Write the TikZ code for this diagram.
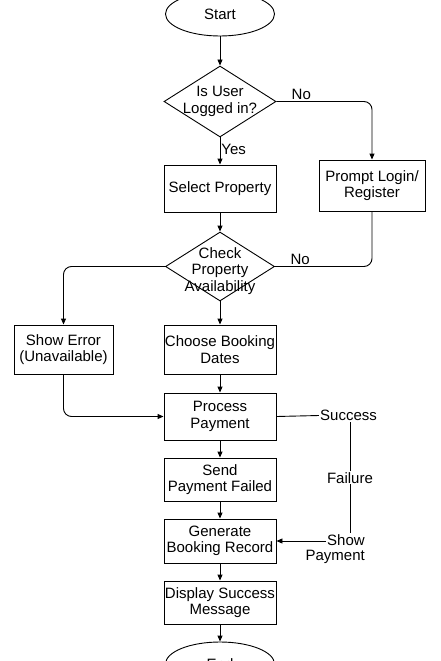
\documentclass[tikz,border=0pt]{standalone}
\usepackage{fontspec}
\setmainfont{Liberation Sans}
\usetikzlibrary{shapes.geometric,arrows.meta}
\newcommand\myfs{\fontsize{15}{16.5}\selectfont}
\tikzset{
  every node/.style={font=\myfs},
  box/.style={draw, line width=0.9pt, minimum width=112pt, inner sep=1pt, align=center},
  dec/.style={draw, diamond, line width=0.9pt, inner sep=0pt},
  term/.style={draw, ellipse, line width=0.9pt, minimum width=109pt, minimum height=44pt},
  txt/.style={align=center, inner sep=0pt},
  lbl/.style={inner sep=1pt},
  conn/.style={line width=0.9pt},
  arr/.style={conn, -{Triangle[length=6pt,width=5pt]}},
}
\begin{document}
\begin{tikzpicture}[x=1pt,y=-1pt]
\useasboundingbox (0,0) rectangle (440,661);
\clip (0,0) rectangle (440,661);
% nodes
\node[term] (start) at (220,14) {Start};
\node[dec, minimum width=112pt, minimum height=71pt] (d1) at (220,101.5) {};
\node[txt] (d1t) at (d1) {Is User\\Logged in?};
\node[box, minimum height=47pt] (sel) at (220,188.5) {Select Property};
\node[box, minimum width=106pt, minimum height=51pt] (pl) at (372,185.5) {Prompt Login/\\Register};
\node[dec, minimum width=109pt, minimum height=69pt] (d2) at (220,266.5) {};
\node[txt] (d2t) at (220,271) {Check\\Property\\Availability};
\node[box, minimum width=99pt, minimum height=49pt] (se) at (63.5,349.5) {Show Error\\(Unavailable)};
\node[box, minimum height=49pt] (cb) at (220,349.5) {Choose Booking\\Dates};
\node[box, minimum height=47pt] (pp) at (220,416.5) {Process\\Payment};
\node[box, minimum height=43pt] (spf) at (220,479.5) {Send\\Payment Failed};
\node[box, minimum height=44pt] (gbr) at (220,541) {Generate\\Booking Record};
\node[box, minimum height=43pt] (dsm) at (220,602.5) {Display Success\\Message};
\node[term] (end) at (220,664) {End};
\node[lbl] (succ) at (348.5,415.5) {Success};
\node[lbl] (show) at (346,540) {Show};
\node[lbl, anchor=base east] (pay) at ([yshift=-15.5pt]show.base east) {Payment};
% connectors
\draw[arr] (start) -- (d1.north);
\draw[arr] (d1.south) -- node[right, lbl, pos=0.45] {Yes} (sel.north);
\draw[arr, rounded corners=8pt] (d1.east) -| node[above, lbl, pos=0.13] {No} (pl.north);
\draw[arr] (sel.south) -- (d2.north);
\draw[conn, rounded corners=8pt] (pl.south) |- node[above, lbl, pos=0.87] {No} (d2.east);
\draw[arr, rounded corners=8pt] (d2.west) -| (se.north);
\draw[arr] (d2.south) -- (cb.north);
\draw[arr] (cb.south) -- (pp.north);
\draw[arr, rounded corners=8pt] (se.south) |- (pp.west);
\draw[arr] (pp.south) -- (spf.north);
\draw[arr] (spf.south) -- (gbr.north);
\draw[arr] (gbr.south) -- (dsm.north);
\draw[arr] (dsm.south) -- (end.north);
\draw[conn] (pp.east) -- (succ.west);
\draw[conn] ([xshift=1.5pt]succ.south) -- node[midway, fill=white, lbl] {Failure} ([xshift=1.5pt]succ.south |- show.north);
\draw[arr] (show.west |- gbr.east) -- (gbr.east);
\end{tikzpicture}
\end{document}
